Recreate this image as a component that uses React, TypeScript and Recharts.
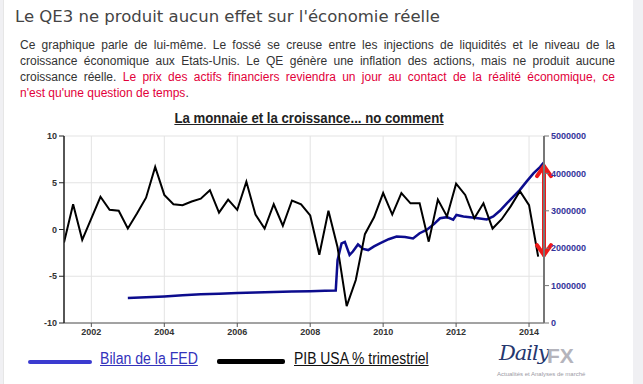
import React from "react";
import {
  LineChart,
  Line,
  XAxis,
  YAxis,
  CartesianGrid,
  ReferenceLine,
} from "recharts";

// PIB USA, variation trimestrielle annualisée (%)
const gdpDates = [
  2001.25, 2001.5, 2001.75,
  2002.0, 2002.25, 2002.5, 2002.75,
  2003.0, 2003.25, 2003.5, 2003.75,
  2004.0, 2004.25, 2004.5, 2004.75,
  2005.0, 2005.25, 2005.5, 2005.75,
  2006.0, 2006.25, 2006.5, 2006.75,
  2007.0, 2007.25, 2007.5, 2007.75,
  2008.0, 2008.25, 2008.5, 2008.75,
  2009.0, 2009.25, 2009.5, 2009.75,
  2010.0, 2010.25, 2010.5, 2010.75,
  2011.0, 2011.25, 2011.5, 2011.75,
  2012.0, 2012.25, 2012.5, 2012.75,
  2013.0, 2013.25, 2013.5, 2013.75,
  2014.0, 2014.25,
];
const gdpValues = [
  -1.4, 2.7, -1.1,
  1.2, 3.5, 2.1, 2.0,
  0.1, 1.7, 3.4, 6.7,
  3.7, 2.7, 2.6, 3.0,
  3.3, 4.2, 1.8, 3.2,
  2.1, 5.1, 1.6, 0.1,
  2.7, 0.4, 3.1, 2.7,
  1.5, -2.7, 2.0, -1.9,
  -8.2, -5.4, -0.5, 1.3,
  3.9, 1.6, 3.9, 2.8,
  2.8, -1.3, 3.2, 1.4,
  4.9, 3.7, 1.2, 2.8,
  0.1, 1.1, 2.5, 4.1,
  2.6, -2.9,
];

// Bilan de la FED (millions $)
const fedDates = [
  2003.0, 2003.5, 2004.0, 2004.5, 2005.0, 2005.5, 2006.0, 2006.5,
  2007.0, 2007.5, 2008.0, 2008.4, 2008.7, 2008.75, 2008.86, 2008.95,
  2009.08, 2009.17, 2009.31, 2009.45, 2009.59, 2009.75, 2009.91, 2010.15,
  2010.37, 2010.6, 2010.82, 2011.0, 2011.19, 2011.4, 2011.56, 2011.75,
  2011.92, 2012.01, 2012.2, 2012.38, 2012.6, 2012.84, 2013.02, 2013.2,
  2013.39, 2013.57, 2013.75, 2013.93, 2014.12, 2014.3, 2014.41,
];
const fedValues = [
  670000, 690000, 710000, 740000, 770000, 785000, 800000, 815000,
  830000, 845000, 850000, 860000, 870000, 1680000, 2130000, 2170000,
  1820000, 1910000, 2100000, 1980000, 1950000, 2050000, 2130000, 2240000,
  2310000, 2300000, 2260000, 2400000, 2490000, 2650000, 2800000, 2830000,
  2760000, 2890000, 2850000, 2830000, 2800000, 2770000, 2850000, 3000000,
  3200000, 3380000, 3560000, 3780000, 4000000, 4170000, 4300000,
];

const yearTicks = [2002, 2004, 2006, 2008, 2010, 2012, 2014];
const gdpTicks = [-10, -5, 0, 5, 10];
const fedTicks = [0, 1000000, 2000000, 3000000, 4000000, 5000000];

// l'écart souligné par la flèche rouge
const gapTop = 4220000;
const gapBottom = 1790000;

const gdpData = gdpDates.map((t, i) => ({ t, v: gdpValues[i] }));
const fedData = fedDates.map((t, i) => ({ t, v: fedValues[i] }));

const sans = "'Liberation Sans', Arial, sans-serif";

const Arrow = (props: any) => {
  const { x1, y1, x2, y2 } = props;
  const top = Math.min(y1, y2);
  const bottom = Math.max(y1, y2);
  const x = x1 ?? x2;
  const red = "#ee1a1a";
  return (
    <g stroke={red} strokeWidth={4} strokeLinecap="round" fill="none">
      <line x1={x} y1={top + 1} x2={x} y2={bottom - 1} />
      <polyline points={`${x - 7},${top + 11} ${x},${top + 1} ${x + 7},${top + 11}`} strokeLinejoin="round" />
      <polyline points={`${x - 7},${bottom - 11} ${x},${bottom - 1} ${x + 7},${bottom - 11}`} strokeLinejoin="round" />
    </g>
  );
};

const para = {
  fontFamily: sans,
  fontSize: 12,
  color: "#333",
  lineHeight: "16px",
};
const justified: React.CSSProperties = {
  textAlign: "justify",
  textAlignLast: "justify",
  whiteSpace: "nowrap",
};
const red = { color: "#e2003a" };

const tickStyle = { fontSize: 9, fontWeight: "bold", fill: "#333", fontFamily: sans };

export default function App() {
  return (
    <div style={{ position: "relative", width: 643, height: 384, background: "#f0f0f3", overflow: "hidden" }}>
      <style>{"body{margin:0}"}</style>
      <div style={{ position: "absolute", left: 3, top: 0, width: 629, height: 384, background: "#fff", borderLeft: "1px solid #e6e6e6" }} />

      <div style={{ position: "absolute", left: 15, top: 7, fontFamily: "'DejaVu Sans', sans-serif", fontSize: 16.5, color: "#444" }}>
        Le QE3 ne produit aucun effet sur l'économie réelle
      </div>

      <div style={{ position: "absolute", left: 20, top: 37, width: 595, ...para }}>
        <div style={justified}>
          Ce graphique parle de lui-même. Le fossé se creuse entre les injections de liquidités et le niveau de la
        </div>
        <div style={justified}>
          croissance économique aux Etats-Unis. Le QE génère une inflation des actions, mais ne produit aucune
        </div>
        <div style={justified}>
          croissance réelle. <span style={red}>Le prix des actifs financiers reviendra un jour au contact de la réalité économique, ce</span>
        </div>
        <div>
          <span style={red}>n'est qu'une question de temps</span>.
        </div>
      </div>

      <div style={{ position: "absolute", left: 64, width: 490, top: 109, textAlign: "center", transform: "scaleX(0.88)", fontFamily: sans, fontWeight: "bold", fontSize: 15, color: "#222", textDecoration: "underline" }}>
        La monnaie et la croissance... no comment
      </div>

      <div style={{ position: "absolute", left: 0, top: 130 }}>
        <LineChart width={600} height={215} margin={{ top: 6, right: 6, bottom: 2, left: 0 }}>
          <CartesianGrid yAxisId="left" stroke="#e3e3e3" />
          <XAxis
            type="number"
            dataKey="t"
            domain={[2001.25, 2014.41]}
            allowDataOverflow
            ticks={yearTicks}
            height={20}
            tickSize={4}
            axisLine={{ stroke: "#555" }}
            tickLine={{ stroke: "#555" }}
            tick={tickStyle}
          />
          <YAxis
            yAxisId="left"
            domain={[-10, 10]}
            ticks={gdpTicks}
            width={64}
            tickSize={5}
            axisLine={{ stroke: "#222", strokeWidth: 1.5 }}
            tickLine={{ stroke: "#222" }}
            tick={tickStyle}
          />
          <YAxis
            yAxisId="right"
            orientation="right"
            domain={[0, 5000000]}
            ticks={fedTicks}
            width={50}
            tickSize={5}
            axisLine={{ stroke: "#777", strokeWidth: 2 }}
            tickLine={{ stroke: "#777" }}
            tick={{ ...tickStyle, fill: "#34349a" }}
          />
          <Line
            yAxisId="right"
            data={fedData}
            dataKey="v"
            stroke="#0c0c8e"
            strokeWidth={2.5}
            dot={false}
            isAnimationActive={false}
          />
          <Line
            yAxisId="left"
            data={gdpData}
            dataKey="v"
            stroke="#000"
            strokeWidth={2}
            dot={false}
            isAnimationActive={false}
          />
          <ReferenceLine
            yAxisId="right"
            segment={[
              { x: 2014.41, y: gapTop },
              { x: 2014.41, y: gapBottom },
            ]}
            ifOverflow="visible"
            shape={Arrow}
          />
        </LineChart>
      </div>

      <div style={{ position: "absolute", left: 28, top: 360, width: 64, height: 4, background: "#3b3bd0", borderRadius: 2 }} />
      <div style={{ position: "absolute", left: 100, top: 350, transform: "scaleX(0.88)", transformOrigin: "left center", fontFamily: sans, fontSize: 16, color: "#3333bb", textDecoration: "underline" }}>
        Bilan de la FED
      </div>
      <div style={{ position: "absolute", left: 217, top: 359, width: 68, height: 5, background: "#000", borderRadius: 2 }} />
      <div style={{ position: "absolute", left: 294, top: 350, transform: "scaleX(0.87)", transformOrigin: "left center", fontFamily: sans, fontSize: 16, color: "#111", textDecoration: "underline" }}>
        PIB USA % trimestriel
      </div>

      <div style={{ position: "absolute", left: 499, top: 341, fontFamily: "'DejaVu Serif', serif", fontStyle: "italic", fontSize: 21, color: "#26376e", letterSpacing: -1 }}>
        Daily
      </div>
      <div style={{ position: "absolute", left: 547, top: 344, fontFamily: sans, fontWeight: "bold", fontSize: 21, color: "#b4b4bc" }}>
        FX
      </div>
      <div style={{ position: "absolute", left: 497, top: 371, fontFamily: sans, fontSize: 6, color: "#9a9aa4" }}>
        Actualités et Analyses de marché
      </div>
    </div>
  );
}
